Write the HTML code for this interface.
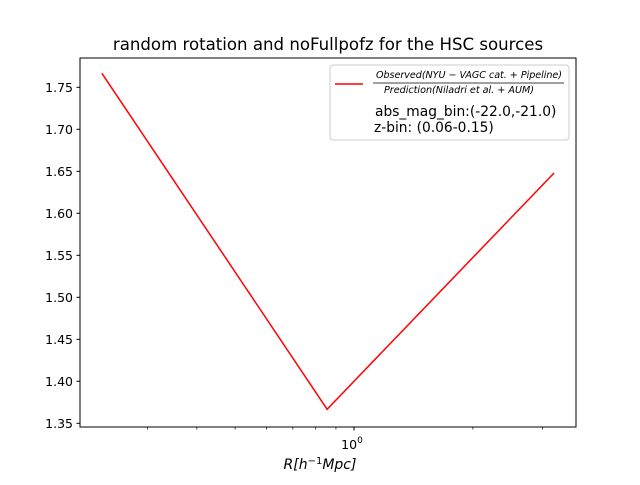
<!DOCTYPE html>
<html><head><meta charset="utf-8"><style>
body{margin:0;background:#fff}
svg text{font-family:"DejaVu Sans","Liberation Sans",sans-serif;fill:#000}
</style></head><body>
<svg id="chart" width="640" height="480" xmlns="http://www.w3.org/2000/svg">
<rect width="640" height="480" fill="#fff"/>
<text x="328" y="50" font-size="16.6" text-anchor="middle">random rotation and noFullpofz for the HSC sources</text>
<g id="ticks"></g>
<polyline id="series" fill="none" stroke="#ff0000" stroke-width="1.5"/>
<rect x="80" y="58" width="496" height="369" fill="none" stroke="#000" stroke-width="1"/>
<text x="320" y="469" font-size="14" text-anchor="middle" font-style="italic">R[h<tspan font-size="10" dy="-5" font-style="normal">−1</tspan><tspan dy="5">Mpc]</tspan></text>
<g>
<rect x="330" y="65" width="239" height="75" rx="3" fill="#fff" stroke="#ccc"/>
<line x1="335" y1="84" x2="363" y2="84" stroke="#ff0000" stroke-width="1.5"/>
<text x="469" y="78" font-size="9.6" font-style="italic" text-anchor="middle" textLength="186">Observed(NYU − VAGC cat. + Pipeline)</text>
<line x1="373" y1="83" x2="564" y2="83" stroke="#000" stroke-width="0.8"/>
<text x="459" y="93" font-size="9.6" font-style="italic" text-anchor="middle" textLength="150">Prediction(Niladri et al. + AUM)</text>
<text x="375" y="116" font-size="13.8">abs_mag_bin:(-22.0,-21.0)</text>
<text x="374" y="132" font-size="13.8">z-bin: (0.06-0.15)</text>
</g>
</svg>
<script>
const xValues=[0.230,0.855,3.21];
const yValues=[1.7667,1.3667,1.648];
const yTicks=[1.35,1.40,1.45,1.50,1.55,1.60,1.65,1.70,1.75];
const xMinorTicks=[0.3,0.4,0.5,0.6,0.7,0.8,0.9,2,3];
const X=v=>354+Math.log10(v)*395;
const Y=v=>423.3-(v-1.35)/0.05*42;
const NS="http://www.w3.org/2000/svg";
const g=document.getElementById('ticks');
function mk(t,a){const e=document.createElementNS(NS,t);for(const k in a)e.setAttribute(k,a[k]);g.appendChild(e);return e;}
yTicks.forEach(v=>{
 const y=Y(v);
 const l=mk('line',{x1:76.5,x2:80,y1:y,y2:y,stroke:'#000'});
 
 
 const t=mk('text',{x:73,y:y+4.5,'font-size':12.5,'text-anchor':'end'});
 t.textContent=v.toFixed(2);
 
 
});
xMinorTicks.forEach(v=>{
 const x=X(v);
 const l=mk('line',{x1:x,x2:x,y1:427,y2:429.5,stroke:'#000','stroke-width':0.7});
 
 
});
const mx=X(1);
const ml=mk('line',{x1:mx,x2:mx,y1:427,y2:430.5,stroke:'#000'});


const mt=mk('text',{x:mx-2,y:449,'font-size':12.5,'text-anchor':'middle'});
mt.innerHTML='10<tspan font-size="9" dy="-6">0</tspan>';


document.getElementById('series').setAttribute('points',xValues.map((v,i)=>X(v)+','+Y(yValues[i])).join(' '));
</script>
</body></html>
